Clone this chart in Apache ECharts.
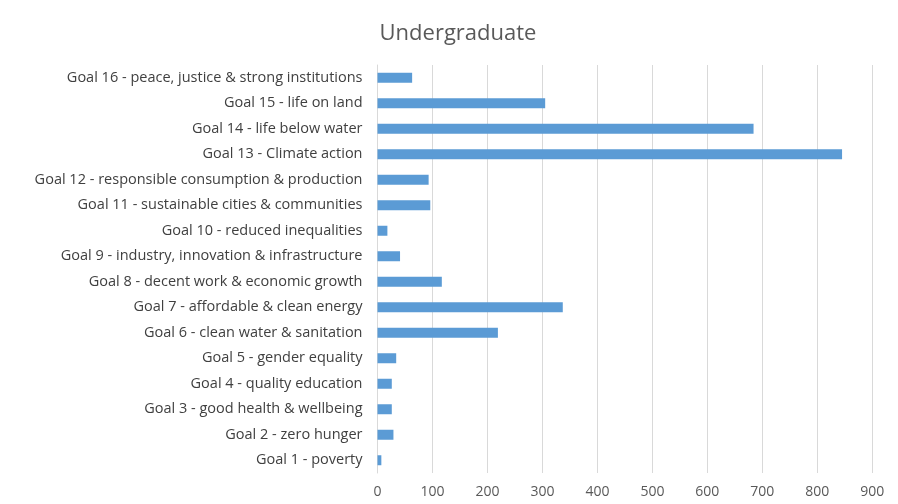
<!DOCTYPE html>
<html>
<head>
<meta charset="utf-8">
<script src="https://cdn.jsdelivr.net/npm/echarts@6/dist/echarts.min.js"></script>
<style>
  html, body { margin: 0; padding: 0; background: #fff; }
  #chart { width: 898px; height: 504px; }
</style>
</head>
<body>
<div id="chart"></div>
<script>
var goals = [
    'Goal 1 - poverty',
    'Goal 2 - zero hunger',
    'Goal 3 - good health & wellbeing',
    'Goal 4 - quality education',
    'Goal 5 - gender equality',
    'Goal 6 - clean water & sanitation',
    'Goal 7 - affordable & clean energy',
    'Goal 8 - decent work & economic growth',
    'Goal 9 - industry, innovation & infrastructure',
    'Goal 10 - reduced inequalities',
    'Goal 11 - sustainable cities & communities',
    'Goal 12 - responsible consumption & production',
    'Goal 13 - Climate action',
    'Goal 14 - life below water',
    'Goal 15 - life on land',
    'Goal 16 - peace, justice & strong institutions'
];
var counts = [7, 29, 26, 26, 34, 219, 337, 117, 41, 18, 96, 93, 845, 684, 305, 63];

var chart = echarts.init(document.getElementById('chart'));
var option = {
    animation: false,
    title: {
        text: 'Undergraduate',
        left: 453,
        textAlign: 'center',
        top: 18,
        textStyle: {
            fontFamily: 'Open Sans',
            fontSize: 22,
            fontWeight: 'normal',
            color: '#595959'
        }
    },
    grid: {
        left: 377.5,
        right: 25.7,
        top: 65,
        bottom: 31
    },
    xAxis: {
        type: 'value',
        min: 0,
        max: 900,
        interval: 100,
        axisLine: { show: false },
        axisTick: { show: false },
        axisLabel: {
            fontFamily: 'Open Sans',
            fontSize: 14,
            color: '#595959',
            margin: 12
        },
        splitLine: { lineStyle: { color: '#d9d9d9', width: 1 } }
    },
    yAxis: {
        type: 'category',
        data: goals,
        axisLine: { show: true, lineStyle: { color: '#d9d9d9' } },
        axisTick: { show: false },
        axisLabel: {
            fontFamily: 'Open Sans',
            fontSize: 14.5,
            color: '#404040',
            margin: 15
        }
    },
    series: [{
        type: 'bar',
        data: counts,
        barWidth: 10,
        itemStyle: { color: '#5b9bd5' }
    }]
};
chart.setOption(option);
</script>
</body>
</html>
